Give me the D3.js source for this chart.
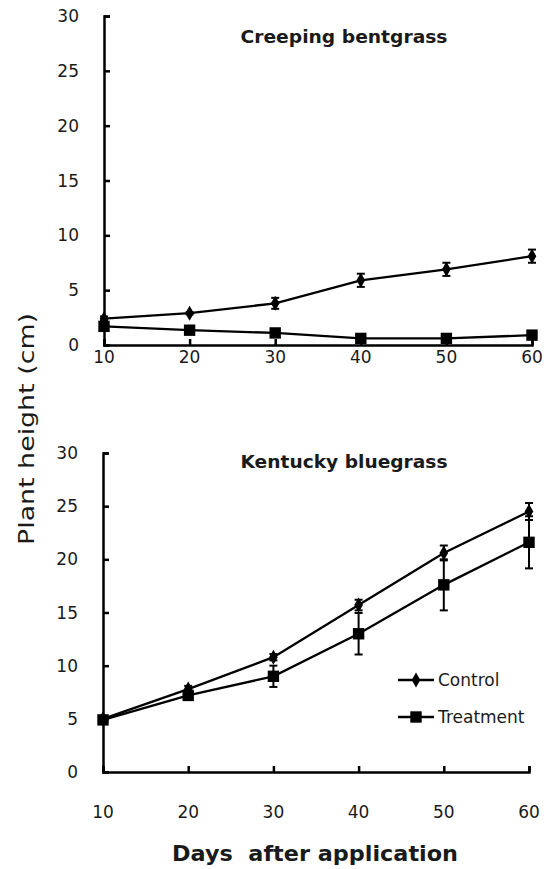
<!DOCTYPE html>
<html><head><meta charset="utf-8">
<script src="https://cdn.jsdelivr.net/npm/d3@7"></script>
<style>
html,body{margin:0;padding:0;background:#fff;}
svg{display:block;}
text{font-family:"DejaVu Sans","Open Sans",sans-serif;fill:#1a1a1a;}
</style></head>
<body>
<svg id="chart" width="550" height="869"></svg>
<script>
// ---- data ----
const days = [10, 20, 30, 40, 50, 60];
const yTicks = [0, 5, 10, 15, 20, 25, 30];
const seriesNames = ["Control", "Treatment"];
const panelTitles = ["Creeping bentgrass", "Kentucky bluegrass"];

const bentControl      = [2.4, 2.9, 3.8, 5.9, 6.9, 8.1];
const bentControlErr   = [0.2, 0.1, 0.5, 0.6, 0.6, 0.6];
const bentTreatment    = [1.7, 1.35, 1.1, 0.6, 0.6, 0.9];
const bentTreatmentErr = [0.2, 0.1, 0.15, 0.1, 0.1, 0.1];

const bluControl       = [5.0, 7.8, 10.8, 15.7, 20.6, 24.5];
const bluControlErr    = [0.2, 0.3, 0.3, 0.5, 0.7, 0.8];
const bluTreatment     = [4.9, 7.2, 9.0, 13.0, 17.6, 21.6];
const bluTreatmentErr  = [0.2, 0.2, 1.0, 1.95, 2.4, 2.45];

const svg = d3.select("#chart");

const panels = [
  {title: panelTitles[0], ctrl: bentControl, ctrlErr: bentControlErr, trt: bentTreatment, trtErr: bentTreatmentErr,
   x0: 104, x1: 532, yTop: 16, yBot: 345, labelGap: 12, titleY: 37, legend: false},
  {title: panelTitles[1], ctrl: bluControl, ctrlErr: bluControlErr, trt: bluTreatment, trtErr: bluTreatmentErr,
   x0: 103, x1: 529, yTop: 453, yBot: 772, labelGap: 40, titleY: 462, legend: true}
];

const diamond = d3.symbol().type(d3.symbolDiamond).size(65);
const square = d3.symbol().type(d3.symbolSquare).size(130);

panels.forEach(p => {
  const x = d3.scaleLinear().domain([10, 60]).range([p.x0, p.x1]);
  const y = d3.scaleLinear().domain([0, 30]).range([p.yBot, p.yTop]);
  const g = svg.append("g");

  // y axis
  const ya = g.append("g").attr("transform", `translate(${p.x0},0)`)
    .call(d3.axisRight(y).tickValues(yTicks).tickSize(6).tickFormat(""));
  ya.select(".domain").attr("stroke", "#000").attr("stroke-width", 2.5);
  ya.selectAll(".tick line").attr("stroke", "#000").attr("stroke-width", 2.5);
  g.selectAll(".ylab").data(yTicks).enter().append("text")
    .attr("x", p.x0 - 25).attr("y", d => y(d)).attr("dy", "0.36em")
    .attr("text-anchor", "end").style("font-size", "17px").text(d => d);

  // x axis
  const xa = g.append("g").attr("transform", `translate(0,${p.yBot})`)
    .call(d3.axisTop(x).tickValues(days).tickSize(6).tickFormat(""));
  xa.select(".domain").attr("stroke", "#000").attr("stroke-width", 2.5);
  xa.selectAll(".tick line").attr("stroke", "#000").attr("stroke-width", 2.5);
  g.selectAll(".xlab").data(days).enter().append("text")
    .attr("x", d => x(d)).attr("y", p.yBot + p.labelGap).attr("dy", "0.36em")
    .attr("text-anchor", "middle").style("font-size", "17px").text(d => d);

  // title
  g.append("text").attr("x", 344).attr("y", p.titleY).attr("dy", "0.36em")
    .attr("text-anchor", "middle").style("font-size", "17px").style("font-weight", "bold")
    .attr("textLength", 207).attr("lengthAdjust", "spacingAndGlyphs")
    .text(p.title);

  const line = d3.line().x((d, i) => x(days[i])).y(d => y(d));
  const series = [
    {v: p.ctrl, e: p.ctrlErr, sym: diamond},
    {v: p.trt, e: p.trtErr, sym: square}
  ];
  series.forEach(s => {
    // error bars
    days.forEach((dd, i) => {
      const cx = x(dd), lo = y(s.v[i] - s.e[i]), hi = y(s.v[i] + s.e[i]);
      g.append("line").attr("x1", cx).attr("x2", cx).attr("y1", lo).attr("y2", hi)
        .attr("stroke", "#000").attr("stroke-width", 2);
      [lo, hi].forEach(yy => g.append("line").attr("x1", cx - 4).attr("x2", cx + 4)
        .attr("y1", yy).attr("y2", yy).attr("stroke", "#000").attr("stroke-width", 2));
    });
    g.append("path").datum(s.v).attr("d", line).attr("fill", "none")
      .attr("stroke", "#000").attr("stroke-width", 2.3);
    g.selectAll(null).data(s.v).enter().append("path")
      .attr("transform", (d, i) => `translate(${x(days[i])},${y(d)})`)
      .attr("d", s.sym).attr("fill", "#000");
  });

  if (p.legend) {
    const lg = g.append("g");
    const items = [{name: seriesNames[0], sym: diamond, y: 680}, {name: seriesNames[1], sym: square, y: 717}];
    items.forEach(it => {
      lg.append("line").attr("x1", 398).attr("x2", 434).attr("y1", it.y).attr("y2", it.y)
        .attr("stroke", "#000").attr("stroke-width", 2.3);
      lg.append("path").attr("transform", `translate(416,${it.y})`).attr("d", it.sym).attr("fill", "#000");
      lg.append("text").attr("x", 438).attr("y", it.y).attr("dy", "0.36em")
        .style("font-size", "17px").text(it.name);
    });
  }
});

// axis titles
svg.append("text").attr("transform", "translate(26,429) rotate(-90)")
  .attr("text-anchor", "middle").attr("dy", "0.36em")
  .style("font-size", "21px")
  .attr("textLength", 232).attr("lengthAdjust", "spacingAndGlyphs")
  .text("Plant height (cm)");
svg.append("text").attr("x", 315).attr("y", 853).attr("dy", "0.36em")
  .attr("text-anchor", "middle").style("font-size", "22px").style("font-weight", "bold")
  .attr("xml:space", "preserve").style("white-space", "pre")
  .attr("textLength", 286).attr("lengthAdjust", "spacingAndGlyphs")
  .text("Days  after application");
</script>
</body></html>
